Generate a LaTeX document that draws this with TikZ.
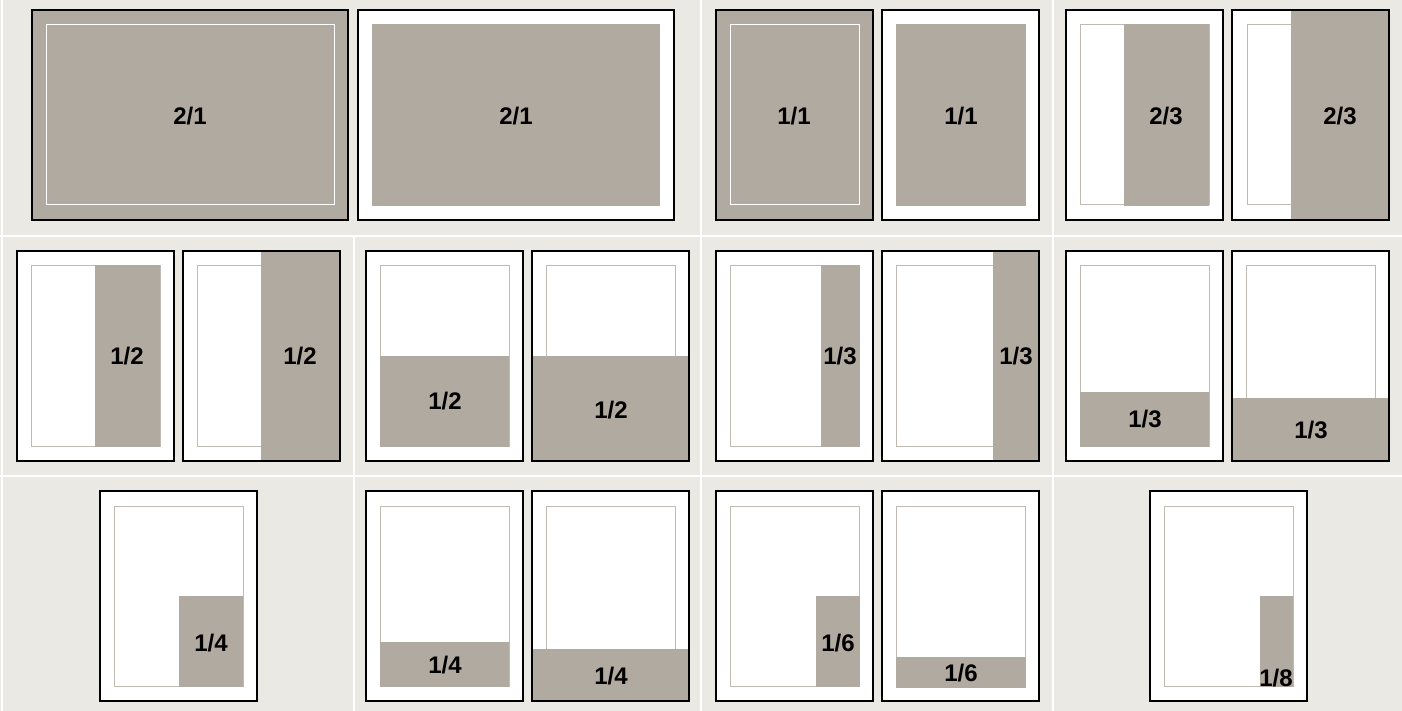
\documentclass[tikz,border=0pt]{standalone}
\usepackage{fontspec}
\setmainfont{Liberation Sans}
\definecolor{sfondo}{HTML}{EAE9E4}
\definecolor{annuncio}{HTML}{B1AAA0}
\definecolor{rifilo}{HTML}{BFBAB2}
\begin{document}
\begin{tikzpicture}[x=1pt, y=-1pt,
    every node/.style={font=\fontsize{24}{24}\selectfont\bfseries, inner sep=0pt},
    pg/.style={draw=black, line width=2.4pt},
    ad/.style={fill=annuncio},
    trim/.style={draw=rifilo, line width=1pt},
    trimw/.style={draw=white, line width=1pt},
    grid/.style={draw=white, line width=2pt}]
    % Sfondo e griglia
    \fill[sfondo] (0,0) rectangle (1402,711);
    \useasboundingbox (0,0) rectangle (1402,711);
    \draw[grid] (0,236) -- (1402,236);
    \draw[grid] (0,476) -- (1402,476);
    \draw[grid] (2,0) -- (2,711);
    \draw[grid] (701,0) -- (701,711);
    \draw[grid] (1053,0) -- (1053,711);
    \draw[grid] (354,236) -- (354,711);

    % Riga 1: 2/1
    \fill[ad] (32,10) rectangle (348,220);
    \draw[trimw] (46.5,25) rectangle (334.5,205);
    \draw[pg] (32,10) rectangle (348,220);
    \node (dop1) at (190,116) {2/1};
    \fill[white] (358,10) rectangle (674,220);
    \fill[ad] (372,24) rectangle (660,206);
    \draw[pg] (358,10) rectangle (674,220);
    \node (dop2) at (516,116) {2/1};

    % Riga 1: 1/1
    \fill[ad] (716,10) rectangle (873,220);
    \draw[trimw] (730,25) rectangle (859,205);
    \draw[pg] (716,10) rectangle (873,220);
    \node (pag1) at (794,116) {1/1};
    \fill[white] (882,10) rectangle (1039,220);
    \fill[ad] (896,24) rectangle (1026,206);
    \draw[pg] (882,10) rectangle (1039,220);
    \node (pag2) at (961,116) {1/1};

    % Riga 1: 2/3
    \fill[white] (1066,10) rectangle (1223,220);
    \draw[trim] (1080,25) rectangle (1209,205);
    \fill[ad] (1124,24) rectangle (1209,206);
    \draw[pg] (1066,10) rectangle (1223,220);
    \node (dt1) at (1166,116) {2/3};
    \fill[white] (1232,10) rectangle (1389,220);
    \draw[trim] (1247,25) rectangle (1375,205);
    \fill[ad] (1291,10) rectangle (1389,220);
    \draw[pg] (1232,10) rectangle (1389,220);
    \node (dt2) at (1340,116) {2/3};

    % Riga 2: 1/2 verticale
    \fill[white] (17,251) rectangle (174,461);
    \draw[trim] (31,266) rectangle (160,446);
    \fill[ad] (95,265) rectangle (160,447);
    \draw[pg] (17,251) rectangle (174,461);
    \node (mv1) at (127,356) {1/2};
    \fill[white] (183,251) rectangle (340,461);
    \draw[trim] (197,266) rectangle (326,446);
    \fill[ad] (261,251) rectangle (340,461);
    \draw[pg] (183,251) rectangle (340,461);
    \node (mv2) at (300,356) {1/2};

    % Riga 2: 1/2 orizzontale
    \fill[white] (366,251) rectangle (523,461);
    \draw[trim] (380,266) rectangle (509,446);
    \fill[ad] (380,356) rectangle (509,447);
    \draw[pg] (366,251) rectangle (523,461);
    \node (mo1) at (445,401) {1/2};
    \fill[white] (532,251) rectangle (689,461);
    \draw[trim] (546,266) rectangle (675,446);
    \fill[ad] (532,356) rectangle (689,461);
    \draw[pg] (532,251) rectangle (689,461);
    \node (mo2) at (611,410) {1/2};

    % Riga 2: 1/3 verticale
    \fill[white] (716,251) rectangle (873,461);
    \draw[trim] (730,266) rectangle (859,446);
    \fill[ad] (821,265) rectangle (860,447);
    \draw[pg] (716,251) rectangle (873,461);
    \node (tv1) at (840,356) {1/3};
    \fill[white] (882,251) rectangle (1039,461);
    \draw[trim] (896,266) rectangle (1025,446);
    \fill[ad] (993,251) rectangle (1039,461);
    \draw[pg] (882,251) rectangle (1039,461);
    \node (tv2) at (1016,356) {1/3};

    % Riga 2: 1/3 orizzontale
    \fill[white] (1066,251) rectangle (1223,461);
    \draw[trim] (1080,266) rectangle (1209,446);
    \fill[ad] (1080,392) rectangle (1209,447);
    \draw[pg] (1066,251) rectangle (1223,461);
    \node (to1) at (1145,419) {1/3};
    \fill[white] (1232,251) rectangle (1389,461);
    \draw[trim] (1246,266) rectangle (1375,446);
    \fill[ad] (1232,398) rectangle (1389,461);
    \draw[pg] (1232,251) rectangle (1389,461);
    \node (to2) at (1311,430) {1/3};

    % Riga 3: 1/4
    \fill[white] (100,491) rectangle (257,701);
    \draw[trim] (114,506) rectangle (243,686);
    \fill[ad] (178.5,596) rectangle (243,687);
    \draw[pg] (100,491) rectangle (257,701);
    \node (qq) at (211,643) {1/4};
    \fill[white] (366,491) rectangle (523,701);
    \draw[trim] (380,506) rectangle (509,686);
    \fill[ad] (380,642) rectangle (509,687);
    \draw[pg] (366,491) rectangle (523,701);
    \node (qo1) at (445,665) {1/4};
    \fill[white] (532,491) rectangle (689,701);
    \draw[trim] (546,506) rectangle (675,686);
    \fill[ad] (532,649) rectangle (689,701);
    \draw[pg] (532,491) rectangle (689,701);
    \node (qo2) at (611,676) {1/4};

    % Riga 3: 1/6
    \fill[white] (716,491) rectangle (873,701);
    \draw[trim] (730,506) rectangle (859,686);
    \fill[ad] (816,596) rectangle (860,687);
    \draw[pg] (716,491) rectangle (873,701);
    \node (sv) at (838,643) {1/6};
    \fill[white] (882,491) rectangle (1039,701);
    \draw[trim] (896,506) rectangle (1025,686);
    \fill[ad] (896,657) rectangle (1026,688);
    \draw[pg] (882,491) rectangle (1039,701);
    \node (so) at (961,673) {1/6};

    % Riga 3: 1/8
    \fill[white] (1150,491) rectangle (1307,701);
    \draw[trim] (1164,506) rectangle (1293,686);
    \fill[ad] (1260,596) rectangle (1293,687);
    \draw[pg] (1150,491) rectangle (1307,701);
    \node[anchor=base] (ott) at (1276,686) {1/8};
\end{tikzpicture}
\end{document}
